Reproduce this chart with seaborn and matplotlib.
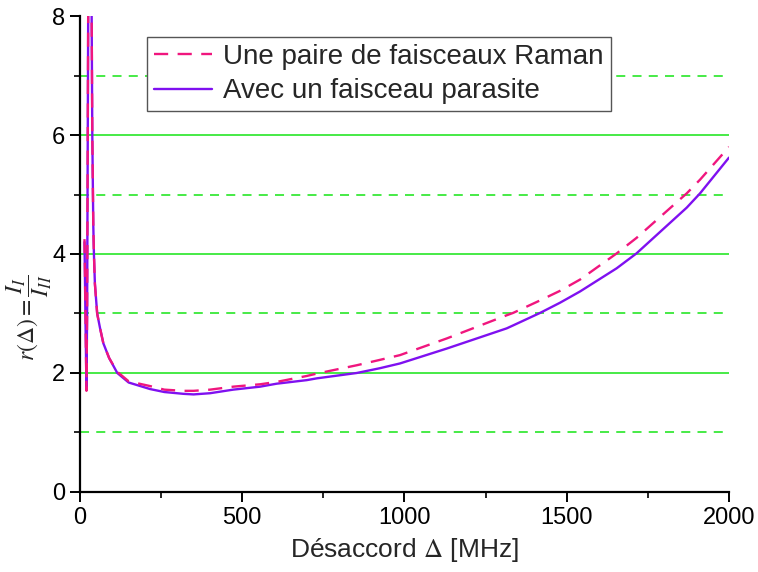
import matplotlib
matplotlib.use("Agg")
import matplotlib.pyplot as plt
import seaborn as sns
import pandas as pd
import numpy as np

# Detuning (MHz) and intensity ratio for both configurations
detuning = [14, 17, 20, 22, 24, 26, 27, 33, 36, 38, 41, 43, 46, 53, 62, 72, 90,
            115, 150, 216, 260, 318, 350, 401, 472, 555, 606, 699, 730, 853,
            924, 986, 1130, 1315, 1335, 1418, 1479, 1541, 1654, 1715, 1870,
            1911, 2000]
ratio_pair = [4.25, 3.0, 1.70, 3.0, 6.0, 9.0, 12.0, 12.0, 8.0, 6.0, 4.5, 4.0,
              3.5, 3.0, 2.75, 2.5, 2.25, 2.02, 1.86, 1.78, 1.72, 1.70, 1.70,
              1.72, 1.77, 1.81, 1.85, 1.95, 1.99, 2.13, 2.22, 2.30, 2.58, 2.97,
              3.01, 3.22, 3.38, 3.57, 4.01, 4.27, 5.02, 5.25, 5.80]
ratio_parasite = [4.20, 2.9, 1.75, 3.0, 6.0, 9.0, 12.0, 12.0, 8.0, 6.0, 4.5,
                  4.0, 3.5, 3.0, 2.75, 2.5, 2.25, 2.0, 1.84, 1.73, 1.68, 1.65,
                  1.64, 1.66, 1.72, 1.77, 1.82, 1.88, 1.91, 2.0, 2.08, 2.16,
                  2.41, 2.75, 2.80, 3.01, 3.18, 3.37, 3.76, 4.01, 4.78, 5.02,
                  5.62]

label_pair = "Une paire de faisceaux Raman"
label_parasite = "Avec un faisceau parasite"

x_ticks = [0, 500, 1000, 1500, 2000]
y_ticks = [0, 2, 4, 6, 8]

df = pd.DataFrame({"detuning": detuning, "pair": ratio_pair,
                   "parasite": ratio_parasite})

sns.set_style("ticks")
plt.rcParams["font.family"] = ["Liberation Sans", "DejaVu Sans"]
plt.rcParams["mathtext.fontset"] = "stix"

fig = plt.figure(figsize=(7.58, 5.72), dpi=100)
ax = fig.add_axes([0.1055, 0.1399, 0.8562, 0.8321])

grid_green = "#38e838"
sns.lineplot(data=df, x="detuning", y="parasite", ax=ax, color="#7f10f0",
             lw=1.7, sort=False, label=label_parasite, zorder=3)
sns.lineplot(data=df, x="detuning", y="pair", ax=ax, color="#f0167e",
             lw=1.7, sort=False, label=label_pair, zorder=4)
ax.lines[-1].set_dashes([6, 4])

ax.set_xlim(0, 2000)
ax.set_ylim(0, 8)
ax.set_xticks(x_ticks)
ax.set_yticks(y_ticks)
ax.set_xticks([250, 750, 1250, 1750], minor=True)
ax.set_yticks([1, 3, 5, 7], minor=True)

ax.grid(True, which="major", axis="y", color=grid_green, lw=1.3, ls="-")
ax.grid(True, which="minor", axis="y", color=grid_green, lw=1.3,
        ls=(0, (5, 4)))
for gl, v in zip(ax.yaxis.get_gridlines(), y_ticks):
    if v in (0, 8):
        gl.set_visible(False)
ax.set_axisbelow(True)

for side in ("top", "right"):
    ax.spines[side].set_visible(False)
for side in ("left", "bottom"):
    ax.spines[side].set_linewidth(1.6)
    ax.spines[side].set_color("black")
ax.tick_params(which="major", direction="out", length=7, width=1.4,
               labelsize=17, colors="black")
ax.tick_params(which="minor", direction="out", length=4.5, width=1.2,
               colors="black")

ax.set_xlabel("Désaccord $\\Delta$ [MHz]", fontsize=19, labelpad=5)
ax.set_ylabel(r"$r(\Delta)=\dfrac{I_I}{I_{II}}$", fontsize=17)
ax.yaxis.set_label_coords(-0.04, 0.366)

handles, labels = ax.get_legend_handles_labels()
leg = ax.legend([handles[1], handles[0]], [labels[1], labels[0]],
                loc="upper left", bbox_to_anchor=(0.103, 0.956), fontsize=20,
                frameon=True, fancybox=False, edgecolor="#555555",
                framealpha=1, handlelength=2.1, handletextpad=0.4,
                borderpad=0.25, labelspacing=0.3, borderaxespad=0)
leg.get_frame().set_linewidth(1.0)

fig.savefig("out.png", dpi=100)
